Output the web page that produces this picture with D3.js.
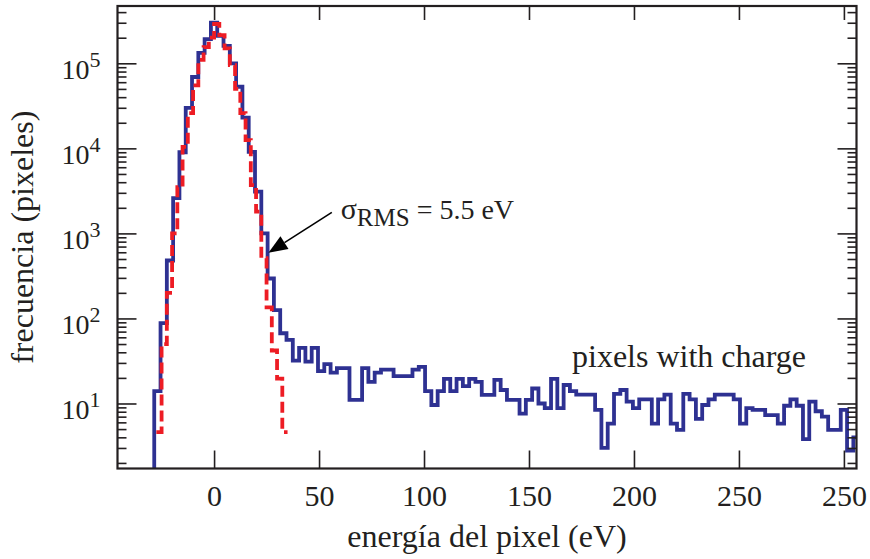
<!DOCTYPE html>
<html>
<head>
<meta charset="utf-8">
<script src="https://cdn.jsdelivr.net/npm/d3@7"></script>
<style>
    body { margin: 0; background: #fff; }
    svg { display: block; font-family: "Liberation Serif", "Times New Roman", serif; }
</style>
</head>
<body>
<div id="chart"></div>
<script>
// measured spectrum, 3 eV bins starting at -28.5 eV
const pixelBinStart = -28.5;
const pixelBinWidth = 3;
const pixelCounts = [
    14, 88, 480, 2600, 9000, 30000, 69000, 133000, 193000, 300000,
    210000, 160000, 100000, 53000, 23000, 9100, 3100, 1000, 295, 125,
    67, 56, 32, 45, 31, 45, 24, 29, 23, 26,
    26, 11, 11, 26, 18, 23, 25, 25, 21, 21,
    21, 25, 27, 14, 9.6, 14, 19.5, 14, 19.5, 16,
    19.5, 18, 12.6, 12.6, 19, 14.4, 11, 11, 7.6, 11,
    15, 10, 8.8, 19.5, 8.8, 16.5, 14, 12.7, 12.7, 12.7,
    8.4, 3.0, 5.8, 13, 14.4, 10.5, 8.8, 11.2, 11.2, 5.8,
    11.2, 12.7, 5.8, 4.9, 13, 11.2, 6.6, 9.6, 11.2, 12.7,
    12.7, 12.7, 11.2, 5.8, 8.8, 8.4, 8.4, 7.3, 7.3, 5.8,
    9.4, 11.2, 9.4, 3.8, 10.5, 8.1, 7, 4.9, 4.9, 8.4,
    2.8, 4
];

// gaussian fit (noise), 2.5 eV bins starting at -27.5 eV
const fitBinStart = -27.5;
const fitBinWidth = 2.5;
const fitCounts = [
    4.6, 50, 200, 1000, 3500, 10400, 26000, 55000, 110000, 155000,
    200000, 290000, 215000, 150000, 95000, 50000, 26000, 12500, 3700, 1800,
    510, 135, 42, 19.6, 4.6
];

// axes
const energyDomain = [-46, 306];
const countDomain = [1.72, 4.72e5];
const energyTicks = [0, 50, 100, 150, 200, 250, 300];
const energyTickLabels = ['0', '50', '100', '150', '200', '250', '250'];
const countDecades = [10, 100, 1000, 10000, 100000];
const decadeExponents = ['1', '2', '3', '4', '5'];

// annotations (energy, counts)
const arrowTip = [25.9, 592];
const arrowTail = [56.1, 1766];
const sigmaAnchor = [60.3, 1470];
const chargeAnchor = [170.5, 27];

const width = 870, height = 559;
const margin = { top: 6, right: 13.5, bottom: 90.5, left: 117.5 };
const ink = '#231f20';

const svg = d3.select('#chart').append('svg')
    .attr('width', width)
    .attr('height', height);

const x = d3.scaleLinear(energyDomain, [margin.left, width - margin.right]);
const y = d3.scaleLog(countDomain, [height - margin.bottom, margin.top]);

const plotBottom = y.range()[0], plotTop = y.range()[1];
const plotLeft = x.range()[0], plotRight = x.range()[1];

svg.append('clipPath').attr('id', 'plot-clip')
    .append('rect')
    .attr('x', plotLeft).attr('y', plotTop)
    .attr('width', plotRight - plotLeft)
    .attr('height', plotBottom - plotTop);

// histogram outlines
const toSteps = (counts, start, step, closeLeft) => {
    const pts = counts.map((c, i) => [start + i * step, c]);
    pts.push([start + counts.length * step, counts[counts.length - 1]]);
    if (closeLeft) pts.unshift([start, 1]);
    return pts;
};
const stepLine = d3.line()
    .x(d => x(d[0]))
    .y(d => y(d[1]))
    .curve(d3.curveStepAfter);

const plot = svg.append('g').attr('clip-path', 'url(#plot-clip)');

plot.append('path')
    .attr('d', stepLine(toSteps(pixelCounts, pixelBinStart, pixelBinWidth, true)))
    .attr('fill', 'none')
    .attr('stroke', '#2e3192')
    .attr('stroke-width', 3.8);

plot.append('path')
    .attr('d', stepLine(toSteps(fitCounts, fitBinStart, fitBinWidth, false)))
    .attr('fill', 'none')
    .attr('stroke', '#ed1c24')
    .attr('stroke-width', 3.8)
    .attr('stroke-dasharray', '11,5');

// axes, ticks pointing inward
const styleAxis = g => {
    g.select('.domain').remove();
    g.selectAll('line').attr('stroke', ink).attr('stroke-width', 1.6);
    g.selectAll('text').attr('fill', ink);
    g.attr('font-family', null);
};

const minorCounts = y.ticks().filter(v => !countDecades.includes(v) && v < countDomain[1]);

svg.append('g')
    .attr('transform', `translate(0,${plotBottom})`)
    .call(d3.axisBottom(x).tickValues(energyTicks)
        .tickFormat((d, i) => energyTickLabels[i])
        .tickSize(-18).tickSizeOuter(0).tickPadding(16))
    .call(styleAxis)
    .attr('font-size', 30);

svg.append('g')
    .attr('transform', `translate(0,${plotTop})`)
    .call(d3.axisTop(x).tickValues(energyTicks).tickFormat('').tickSize(-14).tickSizeOuter(0))
    .call(styleAxis);

const leftAxis = svg.append('g')
    .attr('transform', `translate(${plotLeft},0)`)
    .call(d3.axisLeft(y).tickValues(countDecades).tickSize(-19).tickSizeOuter(0).tickPadding(17))
    .call(styleAxis)
    .attr('font-size', 28);

leftAxis.selectAll('.tick text').each(function (d, i) {
    const t = d3.select(this).text(null).attr('dy', null).attr('y', 15);
    t.append('tspan').text('10');
    t.append('tspan').attr('dy', -12).attr('font-size', 22).text(decadeExponents[i]);
});

svg.append('g')
    .attr('transform', `translate(${plotLeft},0)`)
    .call(d3.axisLeft(y).tickValues(minorCounts).tickFormat('').tickSize(-9).tickSizeOuter(0))
    .call(styleAxis);

svg.append('g')
    .attr('transform', `translate(${plotRight},0)`)
    .call(d3.axisRight(y).tickValues(countDecades).tickFormat('').tickSize(-19).tickSizeOuter(0))
    .call(styleAxis);

svg.append('g')
    .attr('transform', `translate(${plotRight},0)`)
    .call(d3.axisRight(y).tickValues(minorCounts).tickFormat('').tickSize(-9).tickSizeOuter(0))
    .call(styleAxis);

// frame
svg.append('rect')
    .attr('x', plotLeft).attr('y', plotTop)
    .attr('width', plotRight - plotLeft).attr('height', plotBottom - plotTop)
    .attr('fill', 'none')
    .attr('stroke', ink)
    .attr('stroke-width', 2.2);

// axis titles
svg.append('text')
    .attr('x', (plotLeft + plotRight) / 2).attr('y', 547)
    .attr('text-anchor', 'middle')
    .attr('font-size', 32).attr('fill', ink)
    .text('energía del pixel (eV)');

svg.append('text')
    .attr('transform', `translate(33,${(plotTop + plotBottom) / 2}) rotate(-90)`)
    .attr('text-anchor', 'middle')
    .attr('font-size', 32).attr('fill', ink)
    .text('frecuencia (pixeles)');

// sigma annotation with arrow
const tip = [x(arrowTip[0]), y(arrowTip[1])];
const tail = [x(arrowTail[0]), y(arrowTail[1])];
const ang = Math.atan2(tip[1] - tail[1], tip[0] - tail[0]);
const headLen = 19, headHalf = 7.5;
const base = [tip[0] - headLen * Math.cos(ang), tip[1] - headLen * Math.sin(ang)];

svg.append('line')
    .attr('x1', tail[0]).attr('y1', tail[1])
    .attr('x2', base[0]).attr('y2', base[1])
    .attr('stroke', '#000').attr('stroke-width', 1.6);

svg.append('path')
    .attr('d', d3.line()([
        tip,
        [base[0] + headHalf * Math.sin(ang), base[1] - headHalf * Math.cos(ang)],
        [base[0] - headHalf * Math.sin(ang), base[1] + headHalf * Math.cos(ang)]
    ]) + 'Z')
    .attr('fill', '#000');

const sigma = svg.append('text')
    .attr('x', x(sigmaAnchor[0])).attr('y', y(sigmaAnchor[1]))
    .attr('font-size', 30).attr('fill', ink);
sigma.append('tspan').text('σ');
sigma.append('tspan').attr('dy', 7).attr('font-size', 25).text('RMS');
sigma.append('tspan').attr('dy', -7).attr('font-size', 28).text(' = 5.5 eV');

svg.append('text')
    .attr('x', x(chargeAnchor[0])).attr('y', y(chargeAnchor[1]))
    .attr('font-size', 32).attr('fill', ink)
    .text('pixels with charge');
</script>
</body>
</html>
